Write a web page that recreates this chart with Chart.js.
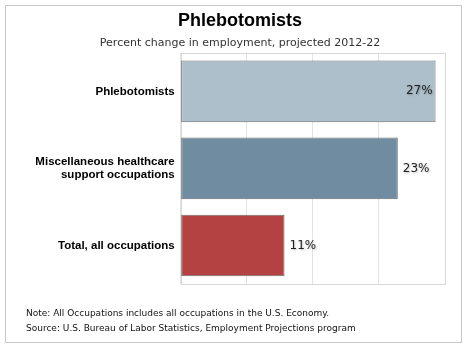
<!DOCTYPE html>
<html>
<head>
<meta charset="utf-8">
<script src="https://cdn.jsdelivr.net/npm/chart.js@4.4.0/dist/chart.umd.min.js"></script>
<style>
  body { margin: 0; background: #fff; }
  #frame { position: absolute; left: 5px; top: 5px; width: 455px; height: 336px; border: 1px solid #c8c8c8; }
  #wrap { position: absolute; left: 0; top: 0; width: 467px; height: 347px; }
  .note { position: absolute; left: 26px; font-family: "DejaVu Sans", sans-serif; font-size: 9px; line-height: 14px; color: #111; white-space: nowrap; }
</style>
</head>
<body>
<div id="frame"></div>
<div id="wrap"><canvas id="chart" width="467" height="347"></canvas></div>
<div class="note" style="top:306px">Note: All Occupations includes all occupations in the U.S. Economy.</div>
<div class="note" style="top:321px">Source: U.S. Bureau of Labor Statistics, Employment Projections program</div>
<script>
// data
const categories = ['Phlebotomists', ['Miscellaneous healthcare', 'support occupations'], 'Total, all occupations'];
const percentChange = [27, 23, 11];
const barColors = ['#adbfcb', '#708ca0', '#b44242'];

// value labels: inside the longest bar, outside the others
const valueLabels = {
    id: 'valueLabels',
    afterDatasetsDraw(chart) {
        const ctx = chart.ctx;
        const meta = chart.getDatasetMeta(0);
        const maxVal = Math.max(...percentChange);
        ctx.save();
        ctx.font = '12px "DejaVu Sans"';
        ctx.fillStyle = '#222';
        ctx.textBaseline = 'middle';
        ctx.shadowColor = 'rgba(0,0,0,0.25)';
        ctx.shadowBlur = 2;
        ctx.shadowOffsetX = 1;
        ctx.shadowOffsetY = 1;
        meta.data.forEach((bar, i) => {
            const v = percentChange[i];
            if (v === maxVal) {
                ctx.textAlign = 'right';
                ctx.fillText(v + '%', bar.x - 3, bar.y);
            } else {
                ctx.textAlign = 'left';
                ctx.fillText(v + '%', bar.x + 5, bar.y);
            }
        });
        ctx.restore();
    }
};

// frame around the plot area
const plotFrame = {
    id: 'plotFrame',
    beforeDatasetsDraw(chart) {
        const a = chart.chartArea;
        const ctx = chart.ctx;
        ctx.save();
        ctx.strokeStyle = '#d8d8d8';
        ctx.lineWidth = 1;
        ctx.strokeRect(Math.round(a.left) + 0.5, Math.round(a.top) + 0.5, Math.round(a.right - a.left), Math.round(a.bottom - a.top));
        ctx.restore();
    }
};

new Chart(document.getElementById('chart'), {
    type: 'bar',
    data: {
        labels: categories,
        datasets: [{
            data: percentChange,
            backgroundColor: barColors,
            borderColor: '#6e6e6e',
            borderWidth: 1,
            borderSkipped: false,
            barPercentage: 0.8,
            categoryPercentage: 1
        }]
    },
    options: {
        indexAxis: 'y',
        responsive: false,
        animation: false,
        layout: { padding: { left: 35, right: 22, top: 10, bottom: 63 } },
        plugins: {
            legend: { display: false },
            tooltip: { enabled: false },
            title: {
                display: true,
                text: 'Phlebotomists',
                color: '#000',
                font: { family: '"Liberation Sans", Arial', size: 18, weight: 'bold' },
                padding: { top: 0, bottom: 4 }
            },
            subtitle: {
                display: true,
                text: 'Percent change in employment, projected 2012-22',
                color: '#333',
                font: { family: '"DejaVu Sans"', size: 11 },
                padding: { top: 1, bottom: 3 }
            }
        },
        scales: {
            x: {
                min: 0,
                max: 28,
                ticks: { display: false, stepSize: 7 },
                grid: { color: '#e3e3e3', drawTicks: false },
                border: { display: false },
                afterFit(scale) { scale.height = 0; }
            },
            y: {
                ticks: {
                    color: '#000',
                    padding: 6,
                    font: { family: '"Liberation Sans", Arial', size: 11.5, weight: 'bold', lineHeight: 1.15 }
                },
                grid: { display: false, drawTicks: false },
                border: { display: false },
                afterFit(scale) { scale.width = 145.7; }
            }
        }
    },
    plugins: [plotFrame, valueLabels]
});
</script>
</body>
</html>
